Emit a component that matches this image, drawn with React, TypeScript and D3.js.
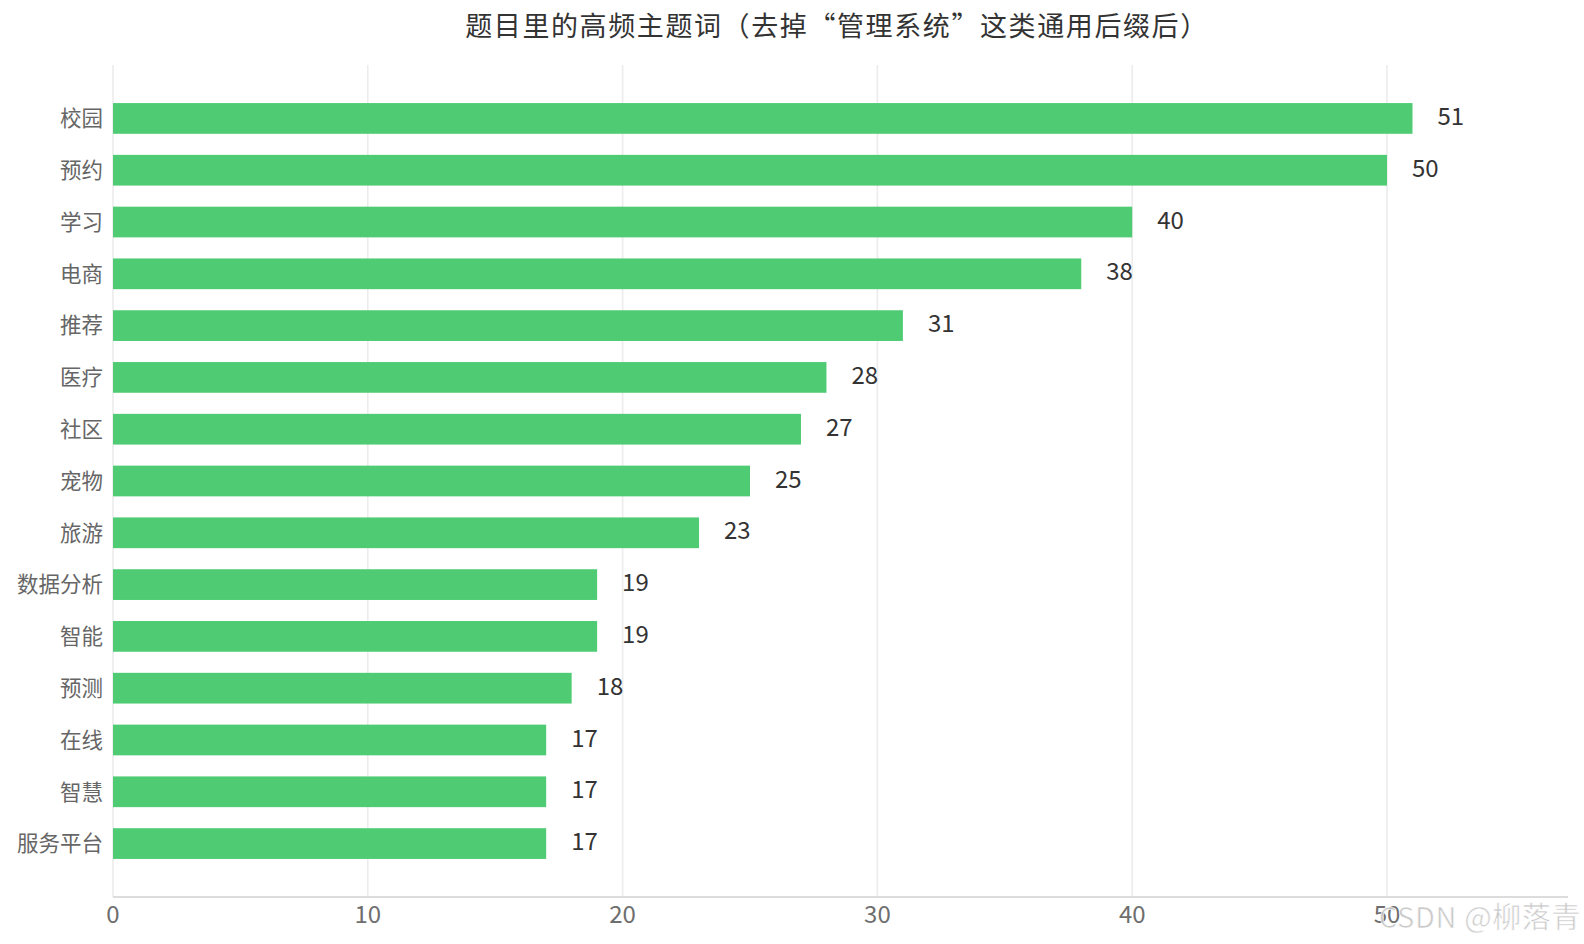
import { useRef, useEffect } from 'react';
import * as d3 from 'd3';

const WIDTH = 1584;
const HEIGHT = 944;

const TITLE = '题目里的高频主题词（去掉“管理系统”这类通用后缀后）';
const WATERMARK = 'CSDN @柳落青';

const categories = [
  '校园',
  '预约',
  '学习',
  '电商',
  '推荐',
  '医疗',
  '社区',
  '宠物',
  '旅游',
  '数据分析',
  '智能',
  '预测',
  '在线',
  '智慧',
  '服务平台',
];
const counts = [51, 50, 40, 38, 31, 28, 27, 25, 23, 19, 19, 18, 17, 17, 17];
const xTicks = [0, 10, 20, 30, 40, 50];

const FONT = '"Noto Sans CJK SC", "Noto Sans", sans-serif';
const BAR = '#4ecb73';

export default function App() {
  const svgRef = useRef<SVGSVGElement>(null);

  useEffect(() => {
    const svg = d3.select(svgRef.current);
    svg.selectAll('*').remove();

    const plotLeft = 113;
    const plotTop = 65;
    const plotBottom = 897;

    const x = d3.scaleLinear().domain([0, 50]).range([plotLeft, 1387]);
    const y = d3
      .scaleBand<string>()
      .domain(categories)
      .range([plotTop, plotBottom])
      .paddingInner(0.407)
      .paddingOuter(0.735);

    svg.append('rect').attr('width', WIDTH).attr('height', HEIGHT).attr('fill', '#fff');

    // title
    svg
      .append('text')
      .attr('x', 837)
      .attr('y', 36)
      .attr('text-anchor', 'middle')
      .attr('fill', '#333')
      .attr('font-size', 27)
      .attr('letter-spacing', 1.6)
      .attr('font-family', FONT)
      .text(TITLE);

    // vertical grid
    xTicks.forEach((t) => {
      svg
        .append('line')
        .attr('x1', x(t))
        .attr('x2', x(t))
        .attr('y1', plotTop)
        .attr('y2', plotBottom)
        .attr('stroke', '#ececec')
        .attr('stroke-width', 1.6);
    });

    // x axis line
    svg
      .append('line')
      .attr('x1', plotLeft)
      .attr('x2', 1568)
      .attr('y1', plotBottom)
      .attr('y2', plotBottom)
      .attr('stroke', '#dcdcdc')
      .attr('stroke-width', 2);

    // tick labels
    xTicks.forEach((t) => {
      svg
        .append('text')
        .attr('x', x(t))
        .attr('y', 923)
        .attr('text-anchor', 'middle')
        .attr('fill', '#6e6e6e')
        .attr('font-size', 24)
        .attr('font-family', FONT)
        .text(String(t));
    });

    // bars
    categories.forEach((c, i) => {
      const yy = y(c)!;
      const bw = y.bandwidth();
      svg
        .append('rect')
        .attr('x', x(0))
        .attr('y', yy)
        .attr('width', x(counts[i]) - x(0))
        .attr('height', bw)
        .attr('fill', BAR);

      // category label
      svg
        .append('text')
        .attr('x', 103)
        .attr('y', yy + bw / 2)
        .attr('dy', '0.36em')
        .attr('text-anchor', 'end')
        .attr('fill', '#666')
        .attr('font-size', 21.5)
        .attr('font-family', FONT)
        .text(c);

      // value label
      svg
        .append('text')
        .attr('x', x(counts[i]) + 25)
        .attr('y', yy + bw / 2 - 2)
        .attr('dy', '0.36em')
        .attr('fill', '#333')
        .attr('font-size', 24)
        .attr('font-family', FONT)
        .text(String(counts[i]));
    });

    // watermark
    svg
      .append('text')
      .attr('x', 1581)
      .attr('y', 928)
      .attr('text-anchor', 'end')
      .attr('fill', '#c4c4c4')
      .attr('stroke', '#fff')
      .attr('stroke-width', 0.6)
      .attr('font-size', 29)
      .attr('letter-spacing', 0.6)
      .attr('font-family', FONT)
      .attr('opacity', 0.9)
      .text(WATERMARK);
  }, []);

  return (
    <svg
      ref={svgRef}
      width={WIDTH}
      height={HEIGHT}
      style={{ position: 'absolute', left: 0, top: 0 }}
    />
  );
}
